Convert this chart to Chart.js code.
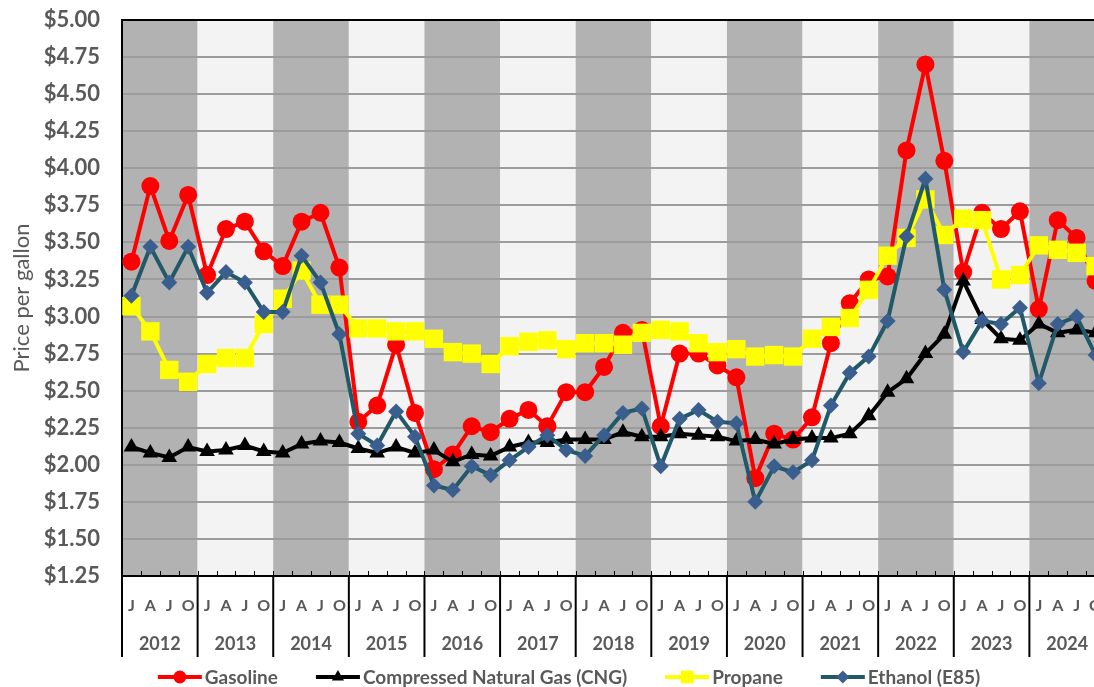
<!DOCTYPE html>
<html>
<head>
<meta charset="utf-8">
<script src="https://cdn.jsdelivr.net/npm/chart.js@4"></script>
<style>
  body { margin: 0; overflow: hidden; background: #fff; }
  #preciosChart { display: block; }
</style>
</head>
<body>
<canvas id="preciosChart" width="1118" height="687"></canvas>
<script>
// Datos trimestrales (J, A, J, O) 2012 - 2024
const years = ["2012", "2013", "2014", "2015", "2016", "2017", "2018", "2019", "2020", "2021", "2022", "2023", "2024"];
const quarters = ["J", "A", "J", "O"];
const quarterLabels = years.flatMap(() => quarters);

const gasoline = [3.37, 3.88, 3.51, 3.82, 3.28, 3.59, 3.64, 3.44, 3.34, 3.64, 3.70, 3.33,
  2.29, 2.40, 2.81, 2.35, 1.97, 2.07, 2.26, 2.22, 2.31, 2.37, 2.26, 2.49,
  2.49, 2.66, 2.89, 2.91, 2.26, 2.75, 2.75, 2.67, 2.59, 1.91, 2.21, 2.17,
  2.32, 2.82, 3.09, 3.25, 3.27, 4.12, 4.70, 4.05, 3.30, 3.70, 3.59, 3.71,
  3.05, 3.65, 3.53, 3.24];
const cng = [2.12, 2.08, 2.05, 2.12, 2.09, 2.10, 2.13, 2.09, 2.08, 2.14, 2.16, 2.15,
  2.11, 2.08, 2.12, 2.08, 2.10, 2.02, 2.07, 2.06, 2.12, 2.15, 2.15, 2.17,
  2.17, 2.17, 2.22, 2.19, 2.19, 2.21, 2.20, 2.19, 2.16, 2.17, 2.14, 2.17,
  2.18, 2.18, 2.21, 2.33, 2.49, 2.58, 2.75, 2.88, 3.24, 2.98, 2.85, 2.84,
  2.95, 2.89, 2.91, 2.89];
const propane = [3.07, 2.90, 2.64, 2.56, 2.68, 2.72, 2.72, 2.95, 3.12, 3.31, 3.08, 3.08,
  2.92, 2.92, 2.90, 2.90, 2.85, 2.76, 2.75, 2.68, 2.80, 2.83, 2.84, 2.78,
  2.82, 2.82, 2.81, 2.89, 2.91, 2.90, 2.82, 2.76, 2.78, 2.73, 2.74, 2.73,
  2.85, 2.93, 2.99, 3.18, 3.41, 3.53, 3.79, 3.55, 3.66, 3.65, 3.25, 3.28,
  3.48, 3.45, 3.43, 3.34];
const ethanol = [3.14, 3.47, 3.23, 3.47, 3.16, 3.30, 3.23, 3.03, 3.03, 3.41, 3.23, 2.88,
  2.21, 2.13, 2.36, 2.19, 1.86, 1.83, 1.99, 1.93, 2.03, 2.12, 2.20, 2.10,
  2.06, 2.20, 2.35, 2.38, 1.99, 2.31, 2.37, 2.29, 2.28, 1.75, 1.99, 1.95,
  2.03, 2.40, 2.62, 2.73, 2.97, 3.54, 3.93, 3.18, 2.76, 2.97, 2.95, 3.06,
  2.55, 2.95, 3.00, 2.74];

const textColor = "#595959";
const fontFamily = "Lato, 'Open Sans', sans-serif";

// Bandas por año, separadores del eje y leyenda propia
const plotExtras = {
  id: "plotExtras",
  beforeDraw(chart) {
    const { ctx, chartArea, scales } = chart;
    const x = scales.x;
    const paso = x.getPixelForValue(1) - x.getPixelForValue(0);
    ctx.save();
    years.forEach((anio, k) => {
      const x0 = x.getPixelForValue(k * 4) - paso / 2;
      ctx.fillStyle = k % 2 === 0 ? "#b2b2b2" : "#f3f3f3";
      ctx.fillRect(x0, chartArea.top, paso * 4, chartArea.bottom - chartArea.top);
    });
    ctx.restore();
  },
  afterDraw(chart) {
    const { ctx, chartArea, scales } = chart;
    const x = scales.x;
    const x2 = scales.x2;
    const paso = x.getPixelForValue(1) - x.getPixelForValue(0);
    ctx.save();
    // marcas pequeñas entre trimestres
    ctx.strokeStyle = "#000";
    ctx.lineWidth = 1;
    for (let i = 0; i <= quarterLabels.length; i++) {
      const xp = Math.round(x.getPixelForValue(0) - paso / 2 + i * paso) + 0.5;
      ctx.beginPath();
      ctx.moveTo(xp, chartArea.bottom - 5);
      ctx.lineTo(xp, chartArea.bottom);
      ctx.stroke();
    }
    // separadores de años
    ctx.lineWidth = 2;
    for (let k = 0; k <= years.length; k++) {
      const xp = x.getPixelForValue(0) - paso / 2 + k * 4 * paso;
      ctx.beginPath();
      ctx.moveTo(xp, chartArea.bottom);
      ctx.lineTo(xp, x2.bottom);
      ctx.stroke();
    }
    // leyenda
    ctx.font = "bold 19px " + fontFamily;
    ctx.textBaseline = "middle";
    const items = chart.data.datasets.map(ds => ({ ds, w: 44 + 3 + ctx.measureText(ds.label).width }));
    const gap = 38;
    const total = items.reduce((s, it) => s + it.w, 0) + gap * (items.length - 1);
    let cx = 569 - total / 2;
    const cy = 677;
    items.forEach(it => {
      const ds = it.ds;
      ctx.strokeStyle = ds.borderColor;
      ctx.lineWidth = 4;
      ctx.beginPath();
      ctx.moveTo(cx, cy);
      ctx.lineTo(cx + 44, cy);
      ctx.stroke();
      ctx.fillStyle = ds.pointBackgroundColor;
      Chart.helpers.drawPoint(ctx, { pointStyle: ds.pointStyle, radius: ds.legendRadius, rotation: 0, borderWidth: 0 }, cx + 22, cy);
      ctx.fillStyle = textColor;
      ctx.fillText(ds.label, cx + 47, cy + 1);
      cx += it.w + gap;
    });
    ctx.restore();
  }
};

const ctxLine = document.getElementById("preciosChart").getContext("2d");
new Chart(ctxLine, {
  type: "line",
  data: {
    labels: quarterLabels,
    datasets: [
      {
        label: "Gasoline",
        data: gasoline,
        borderColor: "#ff0000",
        pointBackgroundColor: "#ff0000",
        pointStyle: "circle",
        pointRadius: 9,
        legendRadius: 6.5,
        order: 4,
      },
      {
        label: "Compressed Natural Gas (CNG)",
        data: cng,
        borderColor: "#000000",
        pointBackgroundColor: "#000000",
        pointStyle: "triangle",
        pointRadius: 9,
        legendRadius: 7,
        order: 3,
      },
      {
        label: "Propane",
        data: propane,
        borderColor: "#ffff00",
        pointBackgroundColor: "#ffff00",
        pointStyle: "rect",
        pointRadius: 13,
        legendRadius: 9,
        order: 2,
      },
      {
        label: "Ethanol (E85)",
        data: ethanol,
        borderColor: "#215968",
        pointBackgroundColor: "#3a5f8e",
        pointStyle: "rectRot",
        pointRadius: 8,
        legendRadius: 6.5,
        order: 1,
      },
    ].map(ds => Object.assign({
      xAxisID: "x",
      yAxisID: "y",
      borderWidth: 4,
      pointBorderWidth: 0,
      pointBorderColor: ds.pointBackgroundColor,
      tension: 0,
    }, ds)),
  },
  options: {
    responsive: false,
    animation: false,
    layout: {
      padding: { top: 20, right: 5, bottom: 30, left: 0 },
    },
    plugins: {
      legend: { display: false },
      tooltip: { enabled: false },
    },
    scales: {
      x: {
        type: "category",
        offset: true,
        grid: { display: false },
        border: { display: true, color: "#000", width: 2 },
        ticks: {
          autoSkip: false,
          maxRotation: 0,
          padding: 12,
          color: textColor,
          font: { family: fontFamily, size: 16, weight: "bold" },
        },
        afterFit: scale => { scale.height = 44; },
      },
      x2: {
        type: "category",
        axis: "x",
        position: "bottom",
        labels: years,
        offset: true,
        grid: { display: false },
        border: { display: false },
        ticks: {
          autoSkip: false,
          maxRotation: 0,
          padding: 5,
          color: textColor,
          font: { family: fontFamily, size: 18, weight: "bold" },
        },
        afterFit: scale => { scale.height = 37; },
      },
      y: {
        min: 1.25,
        max: 5,
        grid: {
          color: c => (c.tick && c.tick.value === 5 ? "#000" : "#9c9c9c"),
          lineWidth: 2,
          drawTicks: false,
        },
        border: { display: true, color: "#000", width: 2 },
        ticks: {
          stepSize: 0.25,
          padding: 22,
          color: textColor,
          font: { family: fontFamily, size: 22, weight: "bold" },
          callback: value => "$" + value.toFixed(2),
        },
        title: {
          display: true,
          text: "Price per gallon",
          color: textColor,
          padding: { top: 9, bottom: 0 },
          font: { family: fontFamily, size: 22 },
        },
        afterFit: scale => {
          scale.width = 122;
          scale.paddingTop = 0;
          scale.paddingBottom = 0;
        },
      },
    },
  },
  plugins: [plotExtras],
});
</script>
</body>
</html>
